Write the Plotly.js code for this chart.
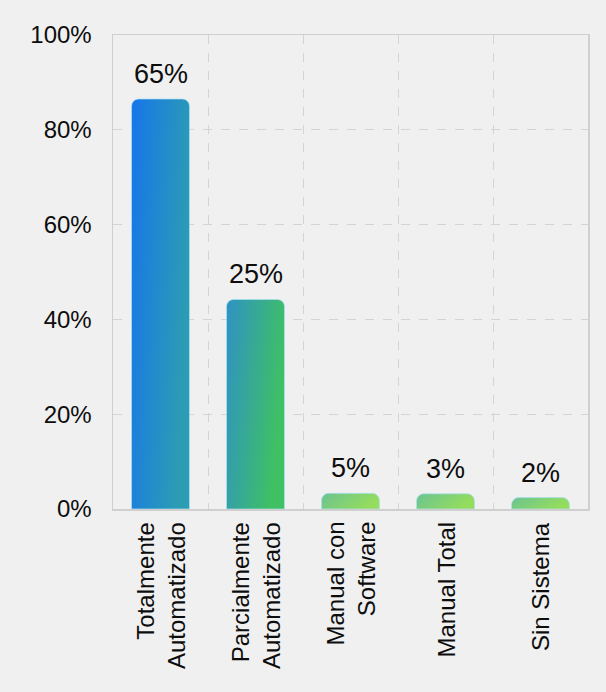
<!DOCTYPE html>
<html>
<head>
<meta charset="utf-8">
<script src="https://cdn.plot.ly/plotly-3.0.1.min.js"></script>
<style>
  html, body { margin: 0; padding: 0; background: #f0f0f0; }
  #chart { width: 606px; height: 692px; }
</style>
</head>
<body>
<div id="chart"></div>
<script>
// ---- data ----
const categories = ["Totalmente<br>Automatizado", "Parcialmente<br>Automatizado", "Manual con<br>Software", "Manual Total", "Sin Sistema"];
const barHeights = [86.5, 44.2, 3.3, 3.2, 2.4];          // drawn bar heights (% of axis)
const barLabels = ["65%", "25%", "5%", "3%", "2%"];        // labels printed above bars
const yTickValues = [0, 20, 40, 60, 80, 100];
const yTickLabels = ["0%", "20%", "40%", "60%", "80%", "100%"];

// ---- styles ----
const gradStart = ["#1676e9", "#2f92c4", "#6bc392", "#6bc392", "#6bc392"];
const gradEnd   = ["#2c9cb4", "#3fc163", "#95dd5c", "#95dd5c", "#95dd5c"];
const baseColors = ["#2289cf", "#37aa8f", "#80d077", "#80d077", "#80d077"];
const FONT = "Liberation Sans, Arial, Helvetica, sans-serif";
const INK = "#0d0d0d";

const trace = {
  type: "bar",
  x: categories,
  y: barHeights,
  width: 0.61,
  marker: { color: baseColors, line: { width: 1, color: "rgba(170,225,245,0.7)" }, cornerradius: 7 },
  hoverinfo: "skip"
};

const valueLabels = categories.map((c, i) => ({
  x: c, y: barHeights[i], xref: "x", yref: "y",
  text: barLabels[i], showarrow: false,
  yanchor: "middle", yshift: 25,
  font: { family: FONT, size: 27, color: INK }
}));

const categoryLabels = categories.map((c, i) => ({
  x: c, y: 0, xref: "x", yref: "paper",
  text: c, showarrow: false,
  textangle: -90, align: "right",
  xanchor: "center", yanchor: "top", yshift: -11,
  font: { family: FONT, size: 24, color: INK }
}));

const layout = {
  width: 606, height: 692,
  paper_bgcolor: "#f0f0f0",
  plot_bgcolor: "#f0f0f0",
  margin: { l: 113, r: 18, t: 35, b: 183 },
  showlegend: false,
  font: { family: FONT, color: INK },
  xaxis: {
    type: "category",
    tickson: "boundaries",
    ticks: "",
    showticklabels: false,
    showgrid: true, gridcolor: "#d4d4d4", griddash: "dash", gridwidth: 1,
    showline: true, linecolor: "#cfcfcf", linewidth: 1.5, mirror: true,
    zeroline: false
  },
  yaxis: {
    range: [0, 100],
    tickmode: "array",
    tickvals: yTickValues,
    ticktext: yTickLabels,
    ticks: "",
    tickfont: { family: FONT, size: 24, color: INK },
    ticklabelstandoff: 15,
    showgrid: true, gridcolor: "#d4d4d4", griddash: "dash", gridwidth: 1,
    showline: true, linecolor: "#cfcfcf", linewidth: 1.5, mirror: true,
    zeroline: false
  },
  annotations: valueLabels.concat(categoryLabels)
};

Plotly.newPlot("chart", [trace], layout, { staticPlot: true, displayModeBar: false }).then(gd => {
  const svg = gd.querySelector("svg.main-svg");
  const ns = "http://www.w3.org/2000/svg";
  const defs = document.createElementNS(ns, "defs");
  svg.insertBefore(defs, svg.firstChild);
  const paths = gd.querySelectorAll(".barlayer .trace .point path");
  paths.forEach((p, i) => {
    const g = document.createElementNS(ns, "linearGradient");
    g.setAttribute("id", "barGrad" + i);
    g.setAttribute("x1", "0"); g.setAttribute("y1", "0");
    g.setAttribute("x2", "1"); g.setAttribute("y2", "0.35");
    const s0 = document.createElementNS(ns, "stop");
    s0.setAttribute("offset", "0"); s0.setAttribute("stop-color", gradStart[i]);
    const s1 = document.createElementNS(ns, "stop");
    s1.setAttribute("offset", "1"); s1.setAttribute("stop-color", gradEnd[i]);
    g.appendChild(s0); g.appendChild(s1);
    defs.appendChild(g);
    p.style.fill = "url(#barGrad" + i + ")";
  });
});
</script>
</body>
</html>
